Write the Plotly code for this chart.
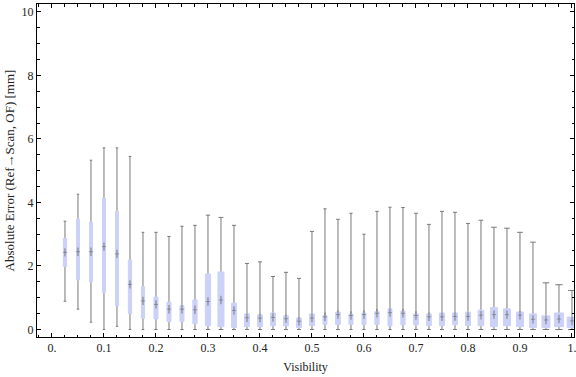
import plotly.graph_objects as go

# Visibility positions of the boxes
visibility = [0.025, 0.05, 0.075, 0.1, 0.125, 0.15, 0.175, 0.2, 0.225, 0.25,
              0.275, 0.3, 0.325, 0.35, 0.375, 0.4, 0.425, 0.45, 0.475, 0.5,
              0.525, 0.55, 0.575, 0.6, 0.625, 0.65, 0.675, 0.7, 0.725, 0.75,
              0.775, 0.8, 0.825, 0.85, 0.875, 0.9, 0.925, 0.95, 0.975, 1.0]

whisker_low = [0.89, 0.64, 0.23, 0.0, 0.10, 0.0, 0.0, 0.0, 0.0, 0.0,
               0.0, 0.0, 0.0, 0.0, 0.0, 0.0, 0.0, 0.0, 0.0, 0.0,
               0.0, 0.0, 0.0, 0.0, 0.0, 0.0, 0.0, 0.0, 0.0, 0.0,
               0.0, 0.0, 0.0, 0.0, 0.0, 0.0, 0.0, 0.0, 0.0, 0.0]
q1 = [1.98, 1.56, 1.50, 1.17, 0.75, 0.50, 0.35, 0.33, 0.25, 0.25,
      0.18, 0.12, 0.09, 0.06, 0.09, 0.09, 0.12, 0.12, 0.06, 0.12,
      0.16, 0.16, 0.16, 0.16, 0.16, 0.11, 0.15, 0.15, 0.12, 0.12,
      0.15, 0.12, 0.12, 0.09, 0.12, 0.09, 0.06, 0.06, 0.09, 0.06]
median = [2.43, 2.45, 2.45, 2.61, 2.38, 1.42, 0.90, 0.79, 0.64, 0.64,
          0.62, 0.88, 0.93, 0.60, 0.37, 0.36, 0.38, 0.34, 0.26, 0.36,
          0.40, 0.47, 0.44, 0.47, 0.51, 0.53, 0.51, 0.44, 0.40, 0.40,
          0.41, 0.41, 0.45, 0.47, 0.47, 0.45, 0.32, 0.30, 0.33, 0.27]
q3 = [2.87, 3.48, 3.38, 4.13, 3.73, 2.19, 1.35, 1.02, 0.86, 0.75,
      0.93, 1.75, 1.81, 0.83, 0.49, 0.46, 0.52, 0.43, 0.36, 0.49,
      0.44, 0.55, 0.49, 0.52, 0.56, 0.65, 0.58, 0.49, 0.49, 0.52,
      0.52, 0.55, 0.61, 0.69, 0.65, 0.55, 0.49, 0.43, 0.52, 0.39]
whisker_high = [3.41, 4.26, 5.33, 5.72, 5.72, 5.45, 3.06, 3.06, 2.93, 3.25,
                3.28, 3.60, 3.53, 3.28, 2.08, 2.13, 1.67, 1.80, 1.61, 3.09,
                3.80, 3.47, 3.66, 3.00, 3.72, 3.85, 3.84, 3.66, 3.31, 3.72,
                3.69, 3.34, 3.44, 3.22, 3.19, 3.06, 2.75, 1.47, 1.41, 1.23]

# per-box drawn width in pixels (as seen in the reference)
box_width_px = [3.3, 3, 3, 3, 3, 3.3, 3.2, 4, 4, 4,
                4.3, 5.3, 6, 5, 5, 5, 5, 5, 5, 5,
                4, 4.7, 4, 4, 4.3, 4, 4.3, 4.7, 4.7, 5,
                5, 5, 5.7, 7, 7, 7, 7, 8, 9, 9.7]

x_tick_vals = [0, 0.1, 0.2, 0.3, 0.4, 0.5, 0.6, 0.7, 0.8, 0.9, 1.0]
x_tick_text = ["0.", "0.1", "0.2", "0.3", "0.4", "0.5", "0.6", "0.7", "0.8", "0.9", "1."]
y_tick_vals = [0, 2, 4, 6, 8, 10]

X_RANGE = [-0.0288, 1.0039]
PLOT_W_PX = 537
px_to_x = (X_RANGE[1] - X_RANGE[0]) / PLOT_W_PX

BOX_FILL = "#ccd2f7"
WHISKER = "#787878"

fig = go.Figure()

# whiskers (degenerate boxes collapsed at the median, drawn underneath)
for i, xv in enumerate(visibility):
    w = box_width_px[i] * px_to_x
    fig.add_trace(go.Box(
        x=[xv], q1=[median[i]], median=[median[i]], q3=[median[i]],
        lowerfence=[whisker_low[i]], upperfence=[whisker_high[i]],
        width=w * 0.85, whiskerwidth=0.95,
        line=dict(color=WHISKER, width=1), fillcolor=WHISKER,
        boxpoints=False, hoverinfo="skip", showlegend=False,
    ))

# boxes (interquartile range)
for i, xv in enumerate(visibility):
    w = box_width_px[i] * px_to_x
    fig.add_trace(go.Box(
        x=[xv], q1=[q1[i]], median=[median[i]], q3=[q3[i]],
        lowerfence=[q1[i]], upperfence=[q3[i]],
        width=w, whiskerwidth=0,
        line=dict(color=BOX_FILL, width=1), fillcolor=BOX_FILL,
        boxpoints=False, showlegend=False,
    ))

# median marks
fig.add_trace(go.Scatter(
    x=visibility, y=median, mode="markers",
    marker=dict(symbol="line-ns", size=6, line=dict(width=1.2, color="rgba(95,95,95,0.65)")),
    showlegend=False, hoverinfo="skip",
))
fig.add_trace(go.Scatter(
    x=visibility, y=median, mode="markers",
    marker=dict(symbol="line-ew", size=3, line=dict(width=1, color="rgba(95,95,95,0.5)")),
    showlegend=False, hoverinfo="skip",
))

font = dict(family="Liberation Serif, Times New Roman, serif", size=12, color="#222")
ytitle_font = dict(family="Liberation Serif, Times New Roman, serif", size=13, color="#222")

fig.update_layout(
    width=576, height=377,
    margin=dict(l=37, r=2, t=4, b=40),
    paper_bgcolor="white", plot_bgcolor="white",
    boxmode="overlay",
    font=font,
    xaxis=dict(
        range=X_RANGE, showgrid=False, zeroline=False, automargin=False,
        showline=True, linecolor="black", linewidth=1, mirror="allticks",
        ticks="inside", ticklen=4, tickcolor="black", tickwidth=1,
        tickvals=x_tick_vals, ticktext=x_tick_text, ticklabeloverflow="allow",
        minor=dict(ticks="inside", dtick=0.025, tick0=0, ticklen=2.5, tickcolor="black", showgrid=False),
        title=dict(text="Visibility", font=font, standoff=8),
        tickfont=font,
    ),
    yaxis=dict(
        range=[-0.236, 10.249], showgrid=False, zeroline=False, automargin=False,
        showline=True, linecolor="black", linewidth=1, mirror="allticks",
        ticks="inside", ticklen=4, tickcolor="black", tickwidth=1,
        tickvals=y_tick_vals, ticklabeloverflow="allow",
        minor=dict(ticks="inside", dtick=0.5, tick0=0, ticklen=2.5, tickcolor="black", showgrid=False),
        title=dict(text="Absolute Error (Ref→Scan, OF) [mm]", font=ytitle_font, standoff=4),
        tickfont=font,
    ),
)

fig.write_html("out.html", config={"displayModeBar": False},
               post_script="document.body.style.margin='0';")
